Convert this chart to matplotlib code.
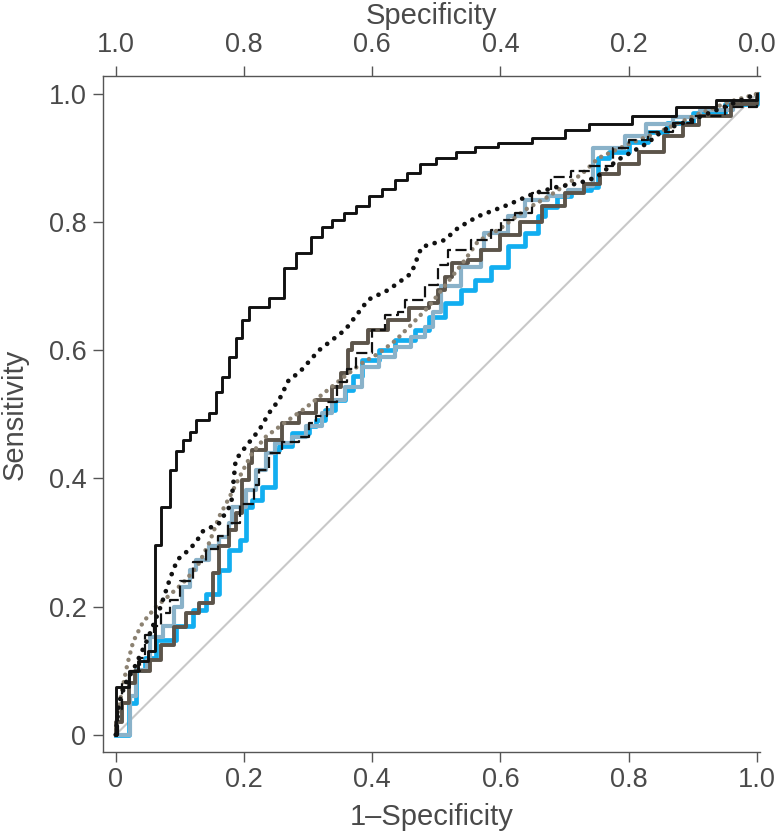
import matplotlib
matplotlib.use("Agg")
import matplotlib.pyplot as plt
from matplotlib import font_manager

# ── Data ───────────────────────────────────────────────────────────────────────
# black solid (best curve), step
xA = [0, 0.0, 0.02, 0.035, 0.05, 0.061, 0.071, 0.084, 0.094, 0.105, 0.115, 0.125, 0.146,
      0.156, 0.166, 0.177, 0.187, 0.197, 0.208, 0.239, 0.262, 0.281, 0.304, 0.322, 0.337,
      0.356, 0.375, 0.395, 0.415, 0.435, 0.455, 0.475, 0.5, 0.53, 0.56, 0.596, 0.649, 0.701,
      0.738, 0.806, 0.874, 0.937, 1.0]
yA = [0, 0.075, 0.1, 0.115, 0.13, 0.296, 0.356, 0.413, 0.442, 0.46, 0.473, 0.491, 0.502,
      0.535, 0.558, 0.59, 0.619, 0.647, 0.668, 0.682, 0.728, 0.752, 0.777, 0.793, 0.803,
      0.814, 0.825, 0.84, 0.852, 0.865, 0.877, 0.89, 0.9, 0.91, 0.917, 0.924, 0.932, 0.943,
      0.953, 0.966, 0.979, 0.99, 1.0]

# black dotted
xB = [0, 0.005, 0.015, 0.03, 0.05, 0.07, 0.085, 0.096, 0.11, 0.125, 0.135, 0.161, 0.18, 0.187,
      0.203, 0.224, 0.239, 0.255, 0.27, 0.286, 0.317, 0.358, 0.394, 0.425, 0.461, 0.477, 0.513,
      0.534, 0.565, 0.612, 0.653, 0.689, 0.72, 0.75, 0.783, 0.829, 0.855, 0.9, 0.95, 1.0]
yB = [0, 0.05, 0.08, 0.107, 0.15, 0.2, 0.245, 0.273, 0.285, 0.3, 0.317, 0.33, 0.36, 0.429,
      0.45, 0.476, 0.502, 0.523, 0.554, 0.565, 0.6, 0.632, 0.679, 0.694, 0.72, 0.761, 0.772,
      0.791, 0.809, 0.827, 0.845, 0.855, 0.86, 0.87, 0.897, 0.923, 0.944, 0.96, 0.98, 1.0]

# black dashed, step
xC = [0, 0.003, 0.01, 0.02, 0.037, 0.045, 0.06, 0.07, 0.084, 0.1, 0.12, 0.14, 0.16, 0.175,
      0.193, 0.215, 0.224, 0.239, 0.259, 0.286, 0.301, 0.312, 0.33, 0.345, 0.36, 0.374, 0.4,
      0.42, 0.441, 0.451, 0.482, 0.503, 0.519, 0.554, 0.585, 0.601, 0.622, 0.65, 0.679, 0.71,
      0.74, 0.775, 0.8, 0.83, 0.87, 0.9, 0.95, 1.0]
yC = [0, 0.04, 0.08, 0.1, 0.12, 0.155, 0.17, 0.19, 0.21, 0.24, 0.27, 0.29, 0.31, 0.33,
      0.36, 0.39, 0.413, 0.44, 0.457, 0.465, 0.487, 0.497, 0.52, 0.55, 0.57, 0.596, 0.632,
      0.655, 0.66, 0.679, 0.702, 0.733, 0.757, 0.772, 0.788, 0.803, 0.814, 0.845, 0.871, 0.879,
      0.888, 0.915, 0.928, 0.94, 0.955, 0.965, 0.98, 1.0]

# dark grey-brown solid, step
xD = [0, 0.0, 0.01, 0.02, 0.03, 0.053, 0.07, 0.09, 0.11, 0.13, 0.151, 0.161, 0.177, 0.187,
      0.197, 0.208, 0.213, 0.234, 0.259, 0.286, 0.312, 0.337, 0.352, 0.363, 0.368, 0.394,
      0.425, 0.457, 0.488, 0.503, 0.513, 0.524, 0.55, 0.57, 0.6, 0.63, 0.665, 0.7, 0.73, 0.755,
      0.785, 0.817, 0.855, 0.885, 0.91, 0.96, 1.0]
yD = [0, 0.02, 0.05, 0.08, 0.1, 0.117, 0.14, 0.168, 0.19, 0.206, 0.252, 0.294, 0.32, 0.346,
      0.398, 0.424, 0.445, 0.46, 0.487, 0.502, 0.522, 0.543, 0.565, 0.6, 0.612, 0.632, 0.647,
      0.666, 0.674, 0.694, 0.715, 0.736, 0.741, 0.757, 0.78, 0.8, 0.825, 0.845, 0.86, 0.875,
      0.89, 0.91, 0.935, 0.952, 0.965, 0.985, 1.0]

# grey-brown dotted
xE = [0, 0.003, 0.01, 0.018, 0.027, 0.042, 0.063, 0.084, 0.104, 0.12, 0.13, 0.146, 0.161,
      0.177, 0.197, 0.213, 0.234, 0.265, 0.296, 0.327, 0.358, 0.384, 0.41, 0.436, 0.461, 0.488,
      0.513, 0.544, 0.565, 0.6, 0.64, 0.675, 0.727, 0.753, 0.803, 0.855, 0.907, 0.958, 1.0]
yE = [0, 0.035, 0.07, 0.11, 0.145, 0.175, 0.2, 0.218, 0.236, 0.254, 0.268, 0.3, 0.34,
      0.37, 0.41, 0.44, 0.465, 0.488, 0.51, 0.535, 0.56, 0.58, 0.595, 0.615, 0.64, 0.668,
      0.7, 0.74, 0.77, 0.79, 0.82, 0.84, 0.875, 0.9, 0.923, 0.944, 0.968, 0.988, 1.0]

# light steel blue, step
xF = [0, 0.022, 0.032, 0.048, 0.053, 0.073, 0.09, 0.104, 0.115, 0.125, 0.146, 0.161, 0.177,
      0.182, 0.203, 0.218, 0.234, 0.249, 0.275, 0.296, 0.322, 0.337, 0.358, 0.384, 0.41, 0.436,
      0.46, 0.482, 0.495, 0.508, 0.539, 0.57, 0.575, 0.612, 0.638, 0.674, 0.705, 0.731, 0.745,
      0.795, 0.827, 0.869, 0.911, 0.963, 1.0]
yF = [0, 0.06, 0.101, 0.117, 0.153, 0.169, 0.2, 0.231, 0.257, 0.273, 0.294, 0.309, 0.33,
      0.356, 0.382, 0.413, 0.44, 0.455, 0.465, 0.481, 0.502, 0.522, 0.543, 0.574, 0.59, 0.605,
      0.62, 0.637, 0.66, 0.7, 0.73, 0.757, 0.783, 0.809, 0.835, 0.84, 0.85, 0.857, 0.915,
      0.935, 0.953, 0.964, 0.975, 0.987, 1.0]

# bright blue, step
xG = [0, 0.02, 0.032, 0.045, 0.063, 0.094, 0.12, 0.14, 0.161, 0.177, 0.193, 0.203, 0.213,
      0.228, 0.249, 0.255, 0.275, 0.301, 0.312, 0.327, 0.342, 0.358, 0.37, 0.384, 0.41, 0.436,
      0.467, 0.488, 0.513, 0.539, 0.56, 0.585, 0.612, 0.638, 0.658, 0.669, 0.689, 0.71, 0.741,
      0.752, 0.77, 0.8, 0.83, 0.86, 0.9, 0.95, 1.0]
yG = [0, 0.05, 0.101, 0.12, 0.148, 0.169, 0.195, 0.22, 0.257, 0.289, 0.304, 0.356, 0.367,
      0.387, 0.444, 0.45, 0.471, 0.481, 0.491, 0.507, 0.522, 0.538, 0.56, 0.585, 0.6, 0.616,
      0.632, 0.652, 0.674, 0.694, 0.71, 0.73, 0.762, 0.783, 0.809, 0.824, 0.84, 0.85, 0.855,
      0.9, 0.91, 0.925, 0.94, 0.955, 0.97, 0.985, 1.0]

bottom_ticks = [0, 0.2, 0.4, 0.6, 0.8, 1.0]
bottom_labels = ["0", "0.2", "0.4", "0.6", "0.8", "1.0"]
top_labels = ["1.0", "0.8", "0.6", "0.4", "0.2", "0.0"]
left_labels = ["0", "0.2", "0.4", "0.6", "0.8", "1.0"]

# ── Style ──────────────────────────────────────────────────────────────────────
names = {f.name for f in font_manager.fontManager.ttflist}
FONT = "Liberation Sans Narrow" if "Liberation Sans Narrow" in names else "Liberation Sans"
plt.rcParams["font.family"] = [FONT, "DejaVu Sans"]
TXT = "#4a4a4a"
AX = "#555555"
FS = 19.5

fig = plt.figure(figsize=(7.77, 8.36), dpi=100)
ax = fig.add_axes([103 / 777, 1 - 752 / 836, 657 / 777, 676 / 836])

ax.plot([0, 1], [0, 1], color="#c8c8c8", lw=1.5, zorder=1)
ax.step(xG, yG, where="post", color="#12aef0", lw=3.4, zorder=2)
ax.step(xF, yF, where="post", color="#8ab2c9", lw=3.0, zorder=3)
ax.step(xD, yD, where="post", color="#5c544a", lw=2.8, zorder=4)
ax.plot(xE, yE, color="#8c8272", lw=3.2, ls=(0, (0.01, 1.7)),
        dash_capstyle="round", zorder=5)
ax.step(xC, yC, where="post", color="#111111", lw=1.6, ls=(0, (5, 2)), zorder=6)
ax.plot(xB, yB, color="#111111", lw=3.4, ls=(0, (0.01, 1.9)),
        dash_capstyle="round", zorder=7)
ax.step(xA, yA, where="post", color="#111111", lw=2.1, zorder=8)

ax.set_xlim(-0.02, 1.005)
ax.set_ylim(-0.027, 1.028)
ax.spines["right"].set_visible(False)
for s in ["left", "top", "bottom"]:
    ax.spines[s].set_color(AX)
    ax.spines[s].set_linewidth(1.0)

ax.set_xticks(bottom_ticks)
ax.set_xticklabels(bottom_labels)
ax.set_yticks(bottom_ticks)
ax.set_yticklabels(left_labels)
ax.tick_params(axis="both", direction="out", length=7, width=1.0, color=AX,
               labelsize=FS, labelcolor=TXT, pad=5)
ax.tick_params(axis="x", pad=4)
ax.set_xlabel("1\u2013Specificity", fontsize=FS + 1.5, color=TXT, labelpad=7)
ax.set_ylabel("Sensitivity", fontsize=FS + 1.5, color=TXT, labelpad=14)

top = ax.secondary_xaxis("top", functions=(lambda v: 1 - v, lambda v: 1 - v))
top.set_xticks([1.0, 0.8, 0.6, 0.4, 0.2, 0.0])
top.set_xticklabels(top_labels)
top.tick_params(direction="out", length=7, width=1.0, color=AX,
                labelsize=FS, labelcolor=TXT, pad=6)
top.spines["top"].set_visible(False)
top.set_xlabel("Specificity", fontsize=FS + 1.5, color=TXT, labelpad=6)

fig.savefig("out.png", dpi=100)
